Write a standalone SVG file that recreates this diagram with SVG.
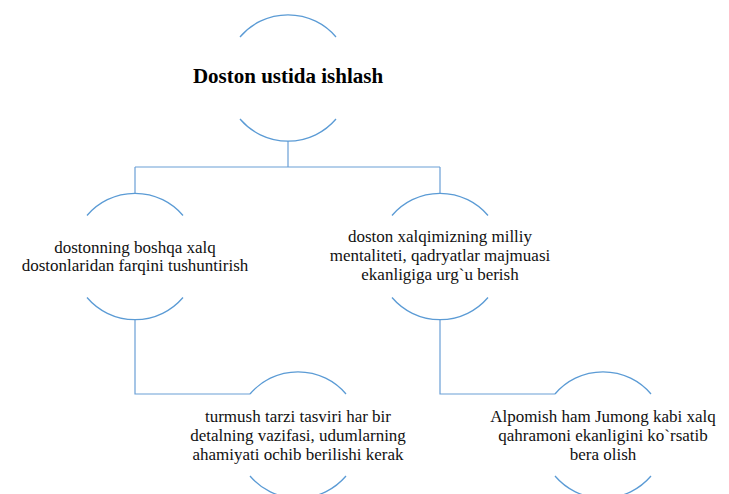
<svg xmlns="http://www.w3.org/2000/svg" width="729" height="494" viewBox="0 0 729 494">
<style>
.arc{fill:none;stroke:#5B9BD5;stroke-width:1.3}
.con{fill:none;stroke:#6A9FD6;stroke-width:1.2}
.t{font-family:"Liberation Serif","Times New Roman",serif;font-size:17px;fill:#111;text-anchor:middle}
.title{font-family:"Liberation Serif","Times New Roman",serif;font-size:21px;font-weight:bold;fill:#000;text-anchor:middle}
</style>
<rect width="729" height="494" fill="#fff"/>
<g id="connectors">
<path class="con" d="M288,141 V167 M135,167 H440 M135,167 V194 M440,167 V194"/>
<path class="con" d="M135,320 V394 H250"/>
<path class="con" d="M440,320 V394 H555"/>
</g>
<g id="node-root">
<path class="arc" d="M240,37 A63,63 0 0 1 336,37 M240,119 A63,63 0 0 0 336,119"/>
<text class="title" x="288" y="83">Doston ustida ishlash</text>
</g>
<g id="node-left">
<path class="arc" d="M87,215.5 A63,63 0 0 1 183,215.5 M87,297.5 A63,63 0 0 0 183,297.5"/>
<text class="t" x="135" y="252.5">dostonning boshqa xalq</text>
<text class="t" x="135" y="271.3">dostonlaridan farqini tushuntirish</text>
</g>
<g id="node-right">
<path class="arc" d="M392,215.5 A63,63 0 0 1 488,215.5 M392,297.5 A63,63 0 0 0 488,297.5"/>
<text class="t" x="440" y="242.4">doston xalqimizning milliy</text>
<text class="t" x="440" y="261.2">mentaliteti, qadryatlar majmuasi</text>
<text class="t" x="440" y="280">ekanligiga urg`u berish</text>
</g>
<g id="node-left-child">
<path class="arc" d="M250,394 A63,63 0 0 1 346,394 M250,476 A63,63 0 0 0 346,476"/>
<text class="t" x="298" y="422.4">turmush tarzi tasviri har bir</text>
<text class="t" x="298" y="441.2">detalning vazifasi, udumlarning</text>
<text class="t" x="298" y="460">ahamiyati ochib berilishi kerak</text>
</g>
<g id="node-right-child">
<path class="arc" d="M555,394 A63,63 0 0 1 651,394 M555,476 A63,63 0 0 0 651,476"/>
<text class="t" x="603" y="422.4">Alpomish ham Jumong kabi xalq</text>
<text class="t" x="603" y="441.2">qahramoni ekanligini ko`rsatib</text>
<text class="t" x="603" y="460">bera olish</text>
</g>
</svg>
